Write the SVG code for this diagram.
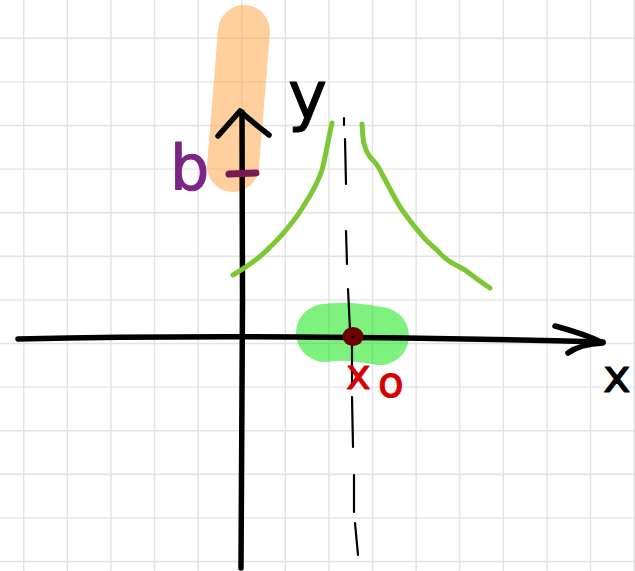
<svg xmlns="http://www.w3.org/2000/svg" width="635" height="571" viewBox="0 0 635 571">
  <style>
    .grid line { stroke: #e3e3e3; stroke-width: 1.4; }
    .ink { fill: none; stroke: #000; stroke-linecap: round; stroke-linejoin: round; }
    .axis { stroke-width: 5.5; }
    .green { fill: none; stroke: #7cc733; stroke-width: 5; stroke-linecap: round; stroke-linejoin: round; }
    .dash { fill: none; stroke: #000; stroke-width: 2.2; stroke-linecap: round; }
    .lbl { font-family: "DejaVu Sans", "Liberation Sans", sans-serif; stroke-linejoin: round; stroke-width: 1; }
  </style>
  <rect width="635" height="571" fill="#ffffff"/>
  <g id="grid" class="grid">
    <line x1="23.7" y1="0" x2="23.7" y2="571"/>
    <line x1="67.3" y1="0" x2="67.3" y2="571"/>
    <line x1="110.9" y1="0" x2="110.9" y2="571"/>
    <line x1="154.5" y1="0" x2="154.5" y2="571"/>
    <line x1="198.1" y1="0" x2="198.1" y2="571"/>
    <line x1="241.7" y1="0" x2="241.7" y2="571"/>
    <line x1="285.3" y1="0" x2="285.3" y2="571"/>
    <line x1="328.9" y1="0" x2="328.9" y2="571"/>
    <line x1="372.5" y1="0" x2="372.5" y2="571"/>
    <line x1="416.1" y1="0" x2="416.1" y2="571"/>
    <line x1="459.7" y1="0" x2="459.7" y2="571"/>
    <line x1="503.3" y1="0" x2="503.3" y2="571"/>
    <line x1="546.9" y1="0" x2="546.9" y2="571"/>
    <line x1="590.5" y1="0" x2="590.5" y2="571"/>
    <line x1="634.1" y1="0" x2="634.1" y2="571"/>
    <line x1="0" y1="38.3" x2="635" y2="38.3"/>
    <line x1="0" y1="81.9" x2="635" y2="81.9"/>
    <line x1="0" y1="125.5" x2="635" y2="125.5"/>
    <line x1="0" y1="169.1" x2="635" y2="169.1"/>
    <line x1="0" y1="212.7" x2="635" y2="212.7"/>
    <line x1="0" y1="256.3" x2="635" y2="256.3"/>
    <line x1="0" y1="299.9" x2="635" y2="299.9"/>
    <line x1="0" y1="343.5" x2="635" y2="343.5"/>
    <line x1="0" y1="387.1" x2="635" y2="387.1"/>
    <line x1="0" y1="430.7" x2="635" y2="430.7"/>
    <line x1="0" y1="474.3" x2="635" y2="474.3"/>
    <line x1="0" y1="517.9" x2="635" y2="517.9"/>
    <line x1="0" y1="561.5" x2="635" y2="561.5"/>
  </g>
  <g id="highlights">
    <line id="highlight-b" x1="244" y1="31" x2="233" y2="166" stroke="#ffaa4f" stroke-opacity="0.55" stroke-width="52" stroke-linecap="round"/>
    <path id="highlight-x0" d="M325,333 C345,330 360,333 380,336" fill="none" stroke="#00e400" stroke-opacity="0.5" stroke-width="58" stroke-linecap="round"/>
  </g>
  <g id="asymptote">
    <path class="dash" d="M344,118 L344,125 M345,139 L346,184 M346,231 L347,264 M348,289 L350,330 M352,345 L352,386 M352,397 L353,447 M354,475 L354,512 M355,523 L358,555"/>
  </g>
  <g id="axes">
    <path id="x-axis" class="ink axis" d="M18,339 Q150,336 300,337 T603,342"/>
    <path id="x-arrow" class="ink axis" d="M555,326 Q585,334 603,343 Q580,344 568,353"/>
    <path id="y-axis" class="ink axis" d="M242,112 L242.5,300 L241,568"/>
    <path id="y-arrow" class="ink axis" d="M218,136 L240,111 Q250,120 269,135"/>
  </g>
  <g id="graph">
    <path id="branch-left" class="green" d="M233,275 C245,268 260,258 270,247 C280,238 295,220 303,207 C310,196 318,183 322,170 C326,155 328,140 332,123"/>
    <path id="branch-right" class="green" d="M362,124 C363,135 362,146 370,157 C375,162 378,165 381,172 C387,183 393,195 400,207 C407,217 413,225 420,233 C426,241 432,246 437,250 C442,256 447,260 452,263 C458,266 461,268 465,270 C473,276 482,283 490,288"/>
  </g>
  <g id="point-x0">
    <ellipse cx="353" cy="336.5" rx="10.5" ry="9.5" fill="#6b0000"/>
    <circle cx="353" cy="337" r="1.3" fill="#000"/>
  </g>
  <g id="labels">
    <text class="lbl" x="288" y="118" font-size="66" fill="#000" stroke="#000">y</text>
    <text class="lbl" x="603" y="392" font-size="47" fill="#000" stroke="#000">x</text>
    <text class="lbl" x="170" y="189" font-size="62" fill="#7b2585" stroke="#7b2585">b</text>
    <line id="tick-b" x1="229" y1="174" x2="256" y2="173" stroke="#7a1a52" stroke-width="7" stroke-linecap="round"/>
    <text class="lbl" x="346" y="389" font-size="42" fill="#d50000" stroke="#d50000">x<tspan x="378" y="397">o</tspan></text>
  </g>
</svg>
